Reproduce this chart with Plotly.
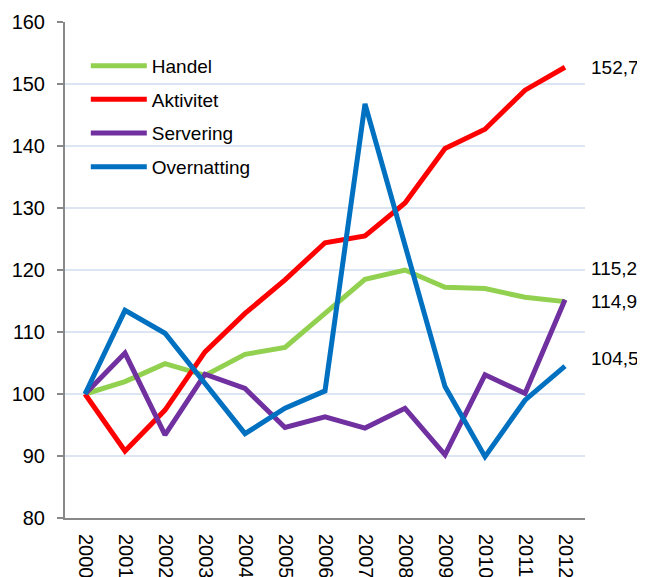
import plotly.graph_objects as go

years = [str(y) for y in range(2000, 2013)]
handel = [100, 102.0, 104.9, 103.0, 106.4, 107.5, 113.0, 118.5, 120.0, 117.2, 117.0, 115.6, 114.9]
aktivitet = [100, 90.8, 97.4, 106.8, 113.0, 118.4, 124.4, 125.5, 130.8, 139.6, 142.7, 149.0, 152.7]
servering = [100, 106.6, 93.4, 103.2, 100.9, 94.6, 96.3, 94.5, 97.7, 90.2, 103.1, 100.1, 115.2]
overnatting = [100, 113.5, 109.8, 101.8, 93.6, 97.7, 100.5, 146.8, 124.0, 101.2, 89.9, 99.0, 104.5]

serier = [
    ("Handel", handel, "#92D050"),
    ("Aktivitet", aktivitet, "#FF0000"),
    ("Servering", servering, "#7030A0"),
    ("Overnatting", overnatting, "#0070C0"),
]

fig = go.Figure()
for navn, verdier, farge in serier:
    fig.add_trace(go.Scatter(x=years, y=verdier, name=navn, mode="lines", legendgroup=navn,
                             line=dict(color=farge, width=5)))

# verdietiketter til hoyre (flyttet litt manuelt som i originalen)
etiketter = [(aktivitet[-1], 0), (servering[-1], 31), (handel[-1], 0), (overnatting[-1], 8)]
for verdi, skift in etiketter:
    fig.add_annotation(x=1, xref="paper", y=verdi, yref="y", text=f"{verdi:.1f}".replace(".", ","),
                       showarrow=False, xanchor="left", xshift=4, yshift=skift,
                       font=dict(size=19, color="#000000"))

# siden har 8px marg i nettleseren, derfor 637x569
fig.update_layout(
    width=637, height=569,
    margin=dict(l=57, r=60, t=14, b=59, autoexpand=False),
    plot_bgcolor="white", paper_bgcolor="white",
    font=dict(family="Liberation Sans, Arial", size=19, color="#000000"),
    showlegend=True,
    legend=dict(x=0.04, y=0.95, xanchor="left", yanchor="top", bgcolor="rgba(0,0,0,0)",
                font=dict(size=19), itemwidth=56, tracegroupgap=6, traceorder="grouped"),
)
fig.update_xaxes(range=[-0.5, 12.5], showgrid=False, showline=True, linecolor="#888888", linewidth=2,
                 ticks="", tickangle=90, ticklabelstandoff=10, tickfont=dict(size=20), automargin=False)
fig.update_yaxes(range=[80, 160], dtick=10, showgrid=True, gridcolor="#DCE6F2", gridwidth=1.5,
                 showline=True, linecolor="#888888", linewidth=2, ticks="outside", ticklen=6,
                 tickcolor="#888888", tickwidth=2, zeroline=False, ticklabelstandoff=8,
                 tickfont=dict(size=20), automargin=False)

fig.write_html("out.html")
